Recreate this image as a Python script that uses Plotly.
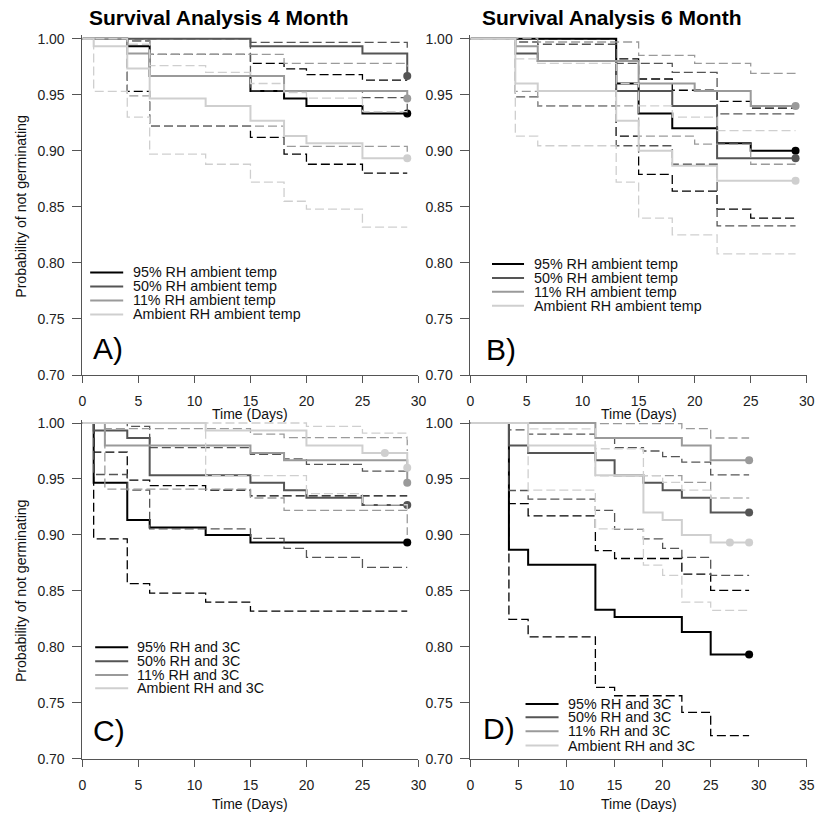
import plotly.graph_objects as go

# ---------------- data ----------------
# Panel A: Survival Analysis 4 Month, ambient temp
a95_time = [0, 4, 6, 15, 18, 20, 25, 29]
a95_surv = [1, 0.9933, 0.9667, 0.9533, 0.9467, 0.94, 0.9333, 0.9333]
a95_upper = [1, 0.998, 0.986, 0.978, 0.973, 0.968, 0.963, 0.963]
a95_lower = [1, 0.953, 0.922, 0.912, 0.897, 0.888, 0.880, 0.880]

a50_time = [0, 15, 25, 29]
a50_surv = [1, 0.9933, 0.9867, 0.9667]
a50_upper = [1, 0.9966, 0.9966, 0.99]
a50_lower = [1, 0.9535, 0.9475, 0.93]

a11_time = [0, 4, 6, 18, 29]
a11_surv = [1, 0.9867, 0.9667, 0.9533, 0.9467]
a11_upper = [1, 0.998, 0.986, 0.978, 0.975]
a11_lower = [1, 0.949, 0.922, 0.904, 0.895]

aamb_time = [0, 1, 4, 6, 11, 15, 18, 20, 25, 29]
aamb_surv = [1, 0.9933, 0.9733, 0.9467, 0.94, 0.9267, 0.9133, 0.9067, 0.8933, 0.8933]
aamb_upper = [1, 1, 0.995, 0.976, 0.97, 0.96, 0.952, 0.947, 0.935, 0.935]
aamb_lower = [1, 0.953, 0.930, 0.897, 0.888, 0.872, 0.855, 0.848, 0.832, 0.832]
aamb_censor = [29]

# Panel B: Survival Analysis 6 Month, ambient temp
b95_time = [0, 13, 15, 18, 22, 25, 29]
b95_surv = [1, 0.96, 0.9333, 0.92, 0.9067, 0.90, 0.90]
b95_upper = [1, 0.982, 0.964, 0.954, 0.944, 0.938, 0.938]
b95_lower = [1, 0.913, 0.879, 0.864, 0.848, 0.84, 0.84]

b50_time = [0, 4, 6, 13, 18, 22, 29]
b50_surv = [1, 0.9867, 0.98, 0.9533, 0.94, 0.8933, 0.8933]
b50_upper = [1, 0.997, 0.995, 0.978, 0.97, 0.933, 0.933]
b50_lower = [1, 0.948, 0.94, 0.9045, 0.888, 0.833, 0.833]

b11_time = [0, 4, 6, 15, 20, 25, 29]
b11_surv = [1, 0.9933, 0.98, 0.96, 0.9533, 0.94, 0.94]
b11_upper = [1, 1, 0.997, 0.985, 0.978, 0.969, 0.969]
b11_lower = [1, 0.953, 0.94, 0.913, 0.906, 0.888, 0.888]

bamb_time = [0, 4, 6, 13, 15, 18, 22, 29]
bamb_surv = [1, 0.96, 0.9533, 0.9267, 0.90, 0.8867, 0.8733, 0.8733]
bamb_upper = [1, 0.982, 0.978, 0.96, 0.94, 0.93, 0.918, 0.918]
bamb_lower = [1, 0.913, 0.9045, 0.872, 0.84, 0.825, 0.808, 0.808]
bamb_censor = [29]

# Panel C: 4 Month, 3C
c95_time = [0, 1, 4, 6, 11, 15, 29]
c95_surv = [1, 0.9467, 0.9133, 0.9067, 0.90, 0.8933, 0.8933]
c95_upper = [1, 0.974, 0.949, 0.944, 0.94, 0.935, 0.935]
c95_lower = [1, 0.8966, 0.8565, 0.848, 0.84, 0.832, 0.832]

c50_time = [0, 1, 4, 6, 15, 18, 20, 25, 29]
c50_surv = [1, 0.9933, 0.9867, 0.9533, 0.9467, 0.94, 0.9333, 0.9267, 0.9267]
c50_upper = [1, 1, 0.997, 0.978, 0.972, 0.968, 0.963, 0.957, 0.957]
c50_lower = [1, 0.954, 0.94, 0.9055, 0.897, 0.888, 0.88, 0.871, 0.871]

c11_time = [0, 2, 15, 18, 29]
c11_surv = [1, 0.98, 0.9733, 0.9667, 0.9467]
c11_upper = [1, 0.995, 0.99, 0.987, 0.975]
c11_lower = [1, 0.941, 0.933, 0.922, 0.90]

camb_time = [0, 11, 20, 25, 29]
camb_surv = [1, 0.9933, 0.98, 0.9733, 0.96]
camb_upper = [1, 1, 0.997, 0.991, 0.985]
camb_lower = [1, 0.953, 0.937, 0.927, 0.92]
camb_censor = [27, 29]

# Panel D: 6 Month, 3C
d95_time = [0, 4, 6, 13, 15, 22, 25, 29]
d95_surv = [1, 0.8867, 0.8733, 0.8333, 0.8267, 0.8133, 0.7933, 0.7933]
d95_upper = [1, 0.928, 0.917, 0.886, 0.879, 0.865, 0.8506, 0.8506]
d95_lower = [1, 0.8247, 0.809, 0.7638, 0.7564, 0.7415, 0.7208, 0.7208]

d50_time = [0, 4, 6, 13, 15, 18, 20, 22, 25, 29]
d50_surv = [1, 0.98, 0.9733, 0.9667, 0.9533, 0.9467, 0.94, 0.9333, 0.92, 0.92]
d50_upper = [1, 0.9938, 0.99, 0.987, 0.978, 0.975, 0.97, 0.965, 0.9537, 0.9537]
d50_lower = [1, 0.9397, 0.932, 0.922, 0.905, 0.8966, 0.888, 0.88, 0.864, 0.864]

d11_time = [0, 13, 22, 25, 29]
d11_surv = [1, 0.9867, 0.98, 0.9667, 0.9667]
d11_upper = [1, 0.9995, 0.995, 0.9866, 0.9866]
d11_lower = [1, 0.953, 0.947, 0.933, 0.933]

damb_time = [0, 6, 13, 18, 20, 22, 25, 29]
damb_surv = [1, 0.98, 0.9533, 0.92, 0.9133, 0.90, 0.8933, 0.8933]
damb_upper = [1, 0.9947, 0.977, 0.953, 0.947, 0.94, 0.933, 0.933]
damb_lower = [1, 0.94, 0.9055, 0.873, 0.864, 0.84, 0.8327, 0.8327]
damb_censor = [27, 29]

labels_ambient_temp = ["95% RH ambient temp", "50% RH ambient temp",
                       "11% RH ambient temp", "Ambient RH ambient temp"]
labels_3c = ["95% RH and 3C", "50% RH and 3C", "11% RH and 3C", "Ambient RH and 3C"]
y_ticks = [0.70, 0.75, 0.80, 0.85, 0.90, 0.95, 1.00]
x_ticks_30 = [0, 5, 10, 15, 20, 25, 30]
x_ticks_35 = [0, 5, 10, 15, 20, 25, 30, 35]
titles = ["Survival Analysis 4 Month", "Survival Analysis 6 Month"]

# ---------------- figure ----------------
W, H = 817, 819
# the capture maps page pixels to picture pixels as  pic = S * page + offset
S, OX, OY = 0.9845, 3.9, 5.8
FONT = "Liberation Sans, Arial, Helvetica, sans-serif"
COLORS = ["#000000", "#555555", "#9a9a9a", "#cfcfcf"]
AXC = "#555555"


def PX(x):
    """target picture x (px) -> paper fraction"""
    return ((x - OX) / S) / W


def PY(y):
    """target picture y (px) -> paper fraction"""
    return 1 - ((y - OY) / S) / H


def step_value(times, surv, t):
    v = surv[0]
    for ti, si in zip(times, surv):
        if ti <= t:
            v = si
    return v


TOP_Y = (376.0, 36.1)
BOT_Y = (760.0, 420.6)
LEFT_X = (82.3, 418.0)
RIGHT_X = (470.0, 806.0)

panels = [
    dict(name="A", xr=[0, 30], xt=x_ticks_30, xdom=LEFT_X, ydom=TOP_Y,
         series=[(a95_time, a95_surv, a95_upper, a95_lower, [29]),
                 (a50_time, a50_surv, a50_upper, a50_lower, [29]),
                 (a11_time, a11_surv, a11_upper, a11_lower, [29]),
                 (aamb_time, aamb_surv, aamb_upper, aamb_lower, aamb_censor)],
         labels=labels_ambient_temp, leg_line=(90, 123), leg_text=131,
         leg_rows=[273.3, 287.3, 301.3, 315.3], tag_xy=(91, 349)),
    dict(name="B", xr=[0, 30], xt=x_ticks_30, xdom=RIGHT_X, ydom=TOP_Y,
         series=[(b95_time, b95_surv, b95_upper, b95_lower, [29]),
                 (b50_time, b50_surv, b50_upper, b50_lower, [29]),
                 (b11_time, b11_surv, b11_upper, b11_lower, [29]),
                 (bamb_time, bamb_surv, bamb_upper, bamb_lower, bamb_censor)],
         labels=labels_ambient_temp, leg_line=(491.5, 523.5), leg_text=531,
         leg_rows=[265.0, 279.0, 292.7, 306.7], tag_xy=(484, 350)),
    dict(name="C", xr=[0, 30], xt=x_ticks_30, xdom=LEFT_X, ydom=BOT_Y,
         series=[(c95_time, c95_surv, c95_upper, c95_lower, [29]),
                 (c50_time, c50_surv, c50_upper, c50_lower, [29]),
                 (c11_time, c11_surv, c11_upper, c11_lower, [29]),
                 (camb_time, camb_surv, camb_upper, camb_lower, camb_censor)],
         labels=labels_3c, leg_line=(95, 128), leg_text=135,
         leg_rows=[648.3, 662.3, 676.0, 689.3], tag_xy=(91, 732)),
    dict(name="D", xr=[0, 35], xt=x_ticks_35, xdom=RIGHT_X, ydom=BOT_Y,
         series=[(d95_time, d95_surv, d95_upper, d95_lower, [29]),
                 (d50_time, d50_surv, d50_upper, d50_lower, [29]),
                 (d11_time, d11_surv, d11_upper, d11_lower, [29]),
                 (damb_time, damb_surv, damb_upper, damb_lower, damb_censor)],
         labels=labels_3c, leg_line=(525, 558), leg_text=565,
         leg_rows=[705.0, 718.3, 732.3, 746.7], tag_xy=(481, 730)),
]

fig = go.Figure()
annotations = []
shapes = []

for i, p in enumerate(panels):
    k = "" if i == 0 else str(i + 1)
    xa, ya = "x" + k, "y" + k
    for j, (t, s, up, lo, cens) in enumerate(p["series"]):
        col = COLORS[j]
        for band in (lo, up):
            fig.add_trace(go.Scatter(x=t, y=band, xaxis=xa, yaxis=ya, mode="lines",
                                     line=dict(color=col, width=1.3, dash="9px,4px", shape="hv"),
                                     showlegend=False, hoverinfo="skip"))
        fig.add_trace(go.Scatter(x=t, y=s, xaxis=xa, yaxis=ya, mode="lines",
                                 line=dict(color=col, width=2, shape="hv"),
                                 showlegend=False))
        fig.add_trace(go.Scatter(x=cens, y=[step_value(t, s, c) for c in cens],
                                 xaxis=xa, yaxis=ya, mode="markers",
                                 marker=dict(color=col, size=8, line=dict(width=0)),
                                 showlegend=False, cliponaxis=False))
    xkey = "xaxis" + k
    ykey = "yaxis" + k
    fig.update_layout({
        xkey: dict(domain=[PX(p["xdom"][0]), PX(p["xdom"][1])], range=p["xr"],
                   anchor=ya, tickvals=p["xt"], ticks="outside", ticklen=7,
                   tickcolor=AXC, showline=True, linecolor=AXC, linewidth=1,
                   showgrid=False, zeroline=False, ticklabelstandoff=6,
                   tickfont=dict(family=FONT, size=14, color="#222")),
        ykey: dict(domain=[PY(p["ydom"][0]), PY(p["ydom"][1])], range=[0.70, 1.003],
                   anchor=xa, tickvals=y_ticks, ticktext=["%.2f" % v for v in y_ticks],
                   ticks="outside", ticklen=9, tickcolor=AXC, showline=True,
                   linecolor=AXC, linewidth=1, showgrid=False, zeroline=False,
                   ticklabelstandoff=5,
                   tickfont=dict(family=FONT, size=14, color="#222")),
    })
    # legend drawn as lines + text
    for j, (lab, row) in enumerate(zip(p["labels"], p["leg_rows"])):
        shapes.append(dict(type="line", xref="paper", yref="paper",
                           x0=PX(p["leg_line"][0]), x1=PX(p["leg_line"][1]),
                           y0=PY(row), y1=PY(row),
                           line=dict(color=COLORS[j], width=2)))
        annotations.append(dict(text=lab, xref="paper", yref="paper",
                                x=PX(p["leg_text"]), y=PY(row), xanchor="left",
                                yanchor="middle", showarrow=False,
                                font=dict(family=FONT, size=14.3, color="#111")))
    annotations.append(dict(text=p["name"] + ")", xref="paper", yref="paper",
                            x=PX(p["tag_xy"][0]), y=PY(p["tag_xy"][1]), xanchor="left",
                            yanchor="middle", showarrow=False,
                            font=dict(family=FONT, size=30, color="#000")))
    # x-axis title
    xt_y = 415 if i < 2 else 805
    annotations.append(dict(text="Time (Days)", xref="paper", yref="paper",
                            x=PX((p["xdom"][0] + p["xdom"][1]) / 2), y=PY(xt_y),
                            xanchor="center", yanchor="middle", showarrow=False,
                            font=dict(family=FONT, size=14, color="#111")))

# y-axis titles
for yc in (207.5, 592.0):
    annotations.append(dict(text="Probability of not germinating", xref="paper", yref="paper",
                            x=PX(21), y=PY(yc), xanchor="center", yanchor="middle",
                            textangle=-90, showarrow=False,
                            font=dict(family=FONT, size=14.1, color="#111")))

# panel titles
for txt, x0 in zip(titles, (87, 480)):
    annotations.append(dict(text="<b>" + txt + "</b>", xref="paper", yref="paper",
                            x=PX(x0), y=PY(18), xanchor="left", yanchor="middle",
                            showarrow=False,
                            font=dict(family=FONT, size=21, color="#000")))

fig.update_layout(width=W, height=H, margin=dict(l=0, r=0, t=0, b=0),
                  paper_bgcolor="white", plot_bgcolor="white",
                  showlegend=False, annotations=annotations, shapes=shapes)

fig.write_html("out.html", config={"displayModeBar": False},
               post_script="document.body.style.margin='0px';"
                           "document.body.style.overflow='hidden';")
